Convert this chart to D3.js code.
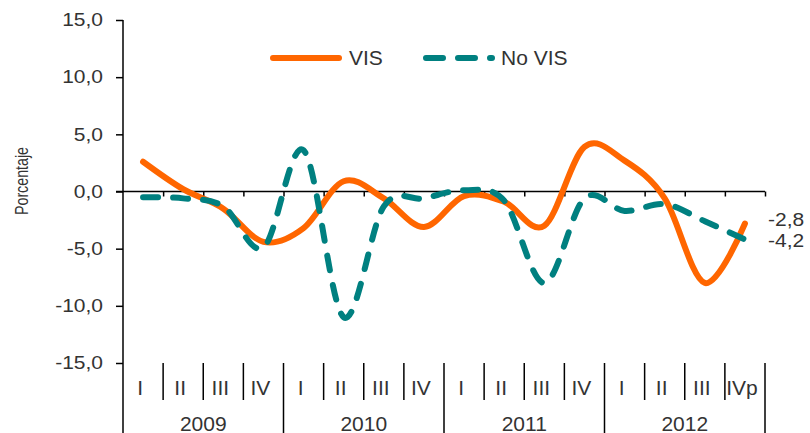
<!DOCTYPE html>
<html>
<head>
<meta charset="utf-8">
<script src="https://cdn.jsdelivr.net/npm/d3@7"></script>
<style>
  body { margin: 0; background: #fff; }
  text { font-family: Arial, "Liberation Sans", sans-serif; fill: #333; }
</style>
</head>
<body>
<div id="chart"></div>
<script>
// datos
var years = ["2009", "2010", "2011", "2012"];
var quarters = ["I", "II", "III", "IV", "I", "II", "III", "IV", "I", "II", "III", "IV", "I", "II", "III", "IVp"];
var vis = [2.6, 0.2, -1.5, -4.4, -3.2, 0.9, -0.6, -3.1, -0.4, -0.9, -3.0, 3.9, 2.7, -0.6, -8.0, -2.8];
var noVis = [-0.5, -0.6, -1.3, -4.9, 3.6, -11.0, -1.3, -0.6, 0.1, -0.8, -8.0, -0.6, -1.7, -1.1, -2.6, -4.2];
var yTicks = [-15, -10, -5, 0, 5, 10, 15];

var W = 810, H = 433;
var mLeft = 123, mRight = 765, mTop = 20, mBottom = 363;

var svg = d3.select("#chart").append("svg")
  .attr("width", W).attr("height", H);

var loc = d3.formatLocale({decimal: ",", thousands: ".", grouping: [3], currency: ["", ""], minus: "-"});
var fmt = loc.format(".1f");

var x = d3.scaleLinear().domain([0, quarters.length]).range([mLeft, mRight]);
var y = d3.scaleLinear().domain([-15, 15]).range([mBottom, mTop]);

// eje y
var yAxis = svg.append("g")
  .attr("transform", "translate(" + mLeft + ",0)")
  .call(d3.axisLeft(y).tickValues(yTicks).tickFormat(fmt).tickSize(7).tickPadding(13));
yAxis.select(".domain").remove();
yAxis.selectAll("line").attr("stroke", "#000").attr("stroke-width", 1.5);
yAxis.selectAll("text")
  .attr("font-size", 21)
  .style("fill", "#333")
  .attr("transform", "scale(1,0.85)");

svg.append("line")
  .attr("x1", mLeft).attr("x2", mLeft)
  .attr("y1", mTop).attr("y2", H)
  .attr("stroke", "#000").attr("stroke-width", 1.5);

// eje x en cero
var xAxis = svg.append("g")
  .attr("transform", "translate(0," + y(0) + ")")
  .call(d3.axisBottom(x).tickValues(d3.range(1, quarters.length + 1)).tickSize(5).tickFormat(""));
xAxis.select(".domain").remove();
xAxis.selectAll("line").attr("stroke", "#000").attr("stroke-width", 1.5);
svg.append("line")
  .attr("x1", mLeft - 7).attr("x2", mRight)
  .attr("y1", y(0)).attr("y2", y(0))
  .attr("stroke", "#000").attr("stroke-width", 1.5);

// separadores de trimestres y años
svg.selectAll(".sep")
  .data(d3.range(1, quarters.length + 1))
  .enter().append("line")
  .attr("x1", function(d) { return x(d); })
  .attr("x2", function(d) { return x(d); })
  .attr("y1", mBottom)
  .attr("y2", function(d) { return d % 4 == 0 ? H : 400; })
  .attr("stroke", "#000").attr("stroke-width", 1.5);

svg.selectAll(".qlab")
  .data(quarters)
  .enter().append("text")
  .attr("x", function(d, i) { return x(i + 0.5) - 3; })
  .attr("y", 395)
  .attr("text-anchor", "middle")
  .attr("font-size", 21)
  .text(function(d) { return d; });

svg.selectAll(".ylab")
  .data(years)
  .enter().append("text")
  .attr("x", function(d, i) { return x(i * 4 + 2); })
  .attr("y", 431)
  .attr("text-anchor", "middle")
  .attr("font-size", 21)
  .text(function(d) { return d; });

// título eje
svg.append("text")
  .attr("transform", "translate(28,181) rotate(-90) scale(0.75,1)")
  .attr("text-anchor", "middle")
  .attr("font-size", 19)
  .text("Porcentaje");

// líneas
var line = d3.line()
  .x(function(d, i) { return x(i + 0.5); })
  .y(function(d) { return y(d); })
  .curve(d3.curveCardinal.tension(0));

svg.append("path")
  .datum(vis)
  .attr("d", line)
  .attr("fill", "none")
  .attr("stroke", "#ff6600")
  .attr("stroke-width", 6)
  .attr("stroke-linecap", "round");

svg.append("path")
  .datum(noVis)
  .attr("d", line)
  .attr("fill", "none")
  .attr("stroke", "#008080")
  .attr("stroke-width", 6)
  .attr("stroke-linecap", "round")
  .attr("stroke-dasharray", "15,15");

// etiquetas finales
function endLabel(v, off) {
  var yy = y(v) + off;
  svg.append("text")
    .attr("x", 768)
    .attr("y", 0)
    .attr("dy", "0.32em")
    .attr("font-size", 21)
    .attr("transform", "translate(0," + yy + ") scale(1,0.85)")
    .text(fmt(v));
}
endLabel(vis[vis.length - 1], -3);
endLabel(noVis[noVis.length - 1], 2);

// leyenda
svg.append("line")
  .attr("x1", 273).attr("x2", 339).attr("y1", 58).attr("y2", 58)
  .attr("stroke", "#ff6600").attr("stroke-width", 6).attr("stroke-linecap", "round");
svg.append("text").attr("x", 349).attr("y", 65).attr("font-size", 21).text("VIS");
svg.append("line")
  .attr("x1", 426).attr("x2", 492).attr("y1", 58).attr("y2", 58)
  .attr("stroke", "#008080").attr("stroke-width", 6).attr("stroke-linecap", "round")
  .attr("stroke-dasharray", "17,15");
svg.append("text").attr("x", 501).attr("y", 65).attr("font-size", 21).text("No VIS");
</script>
</body>
</html>
